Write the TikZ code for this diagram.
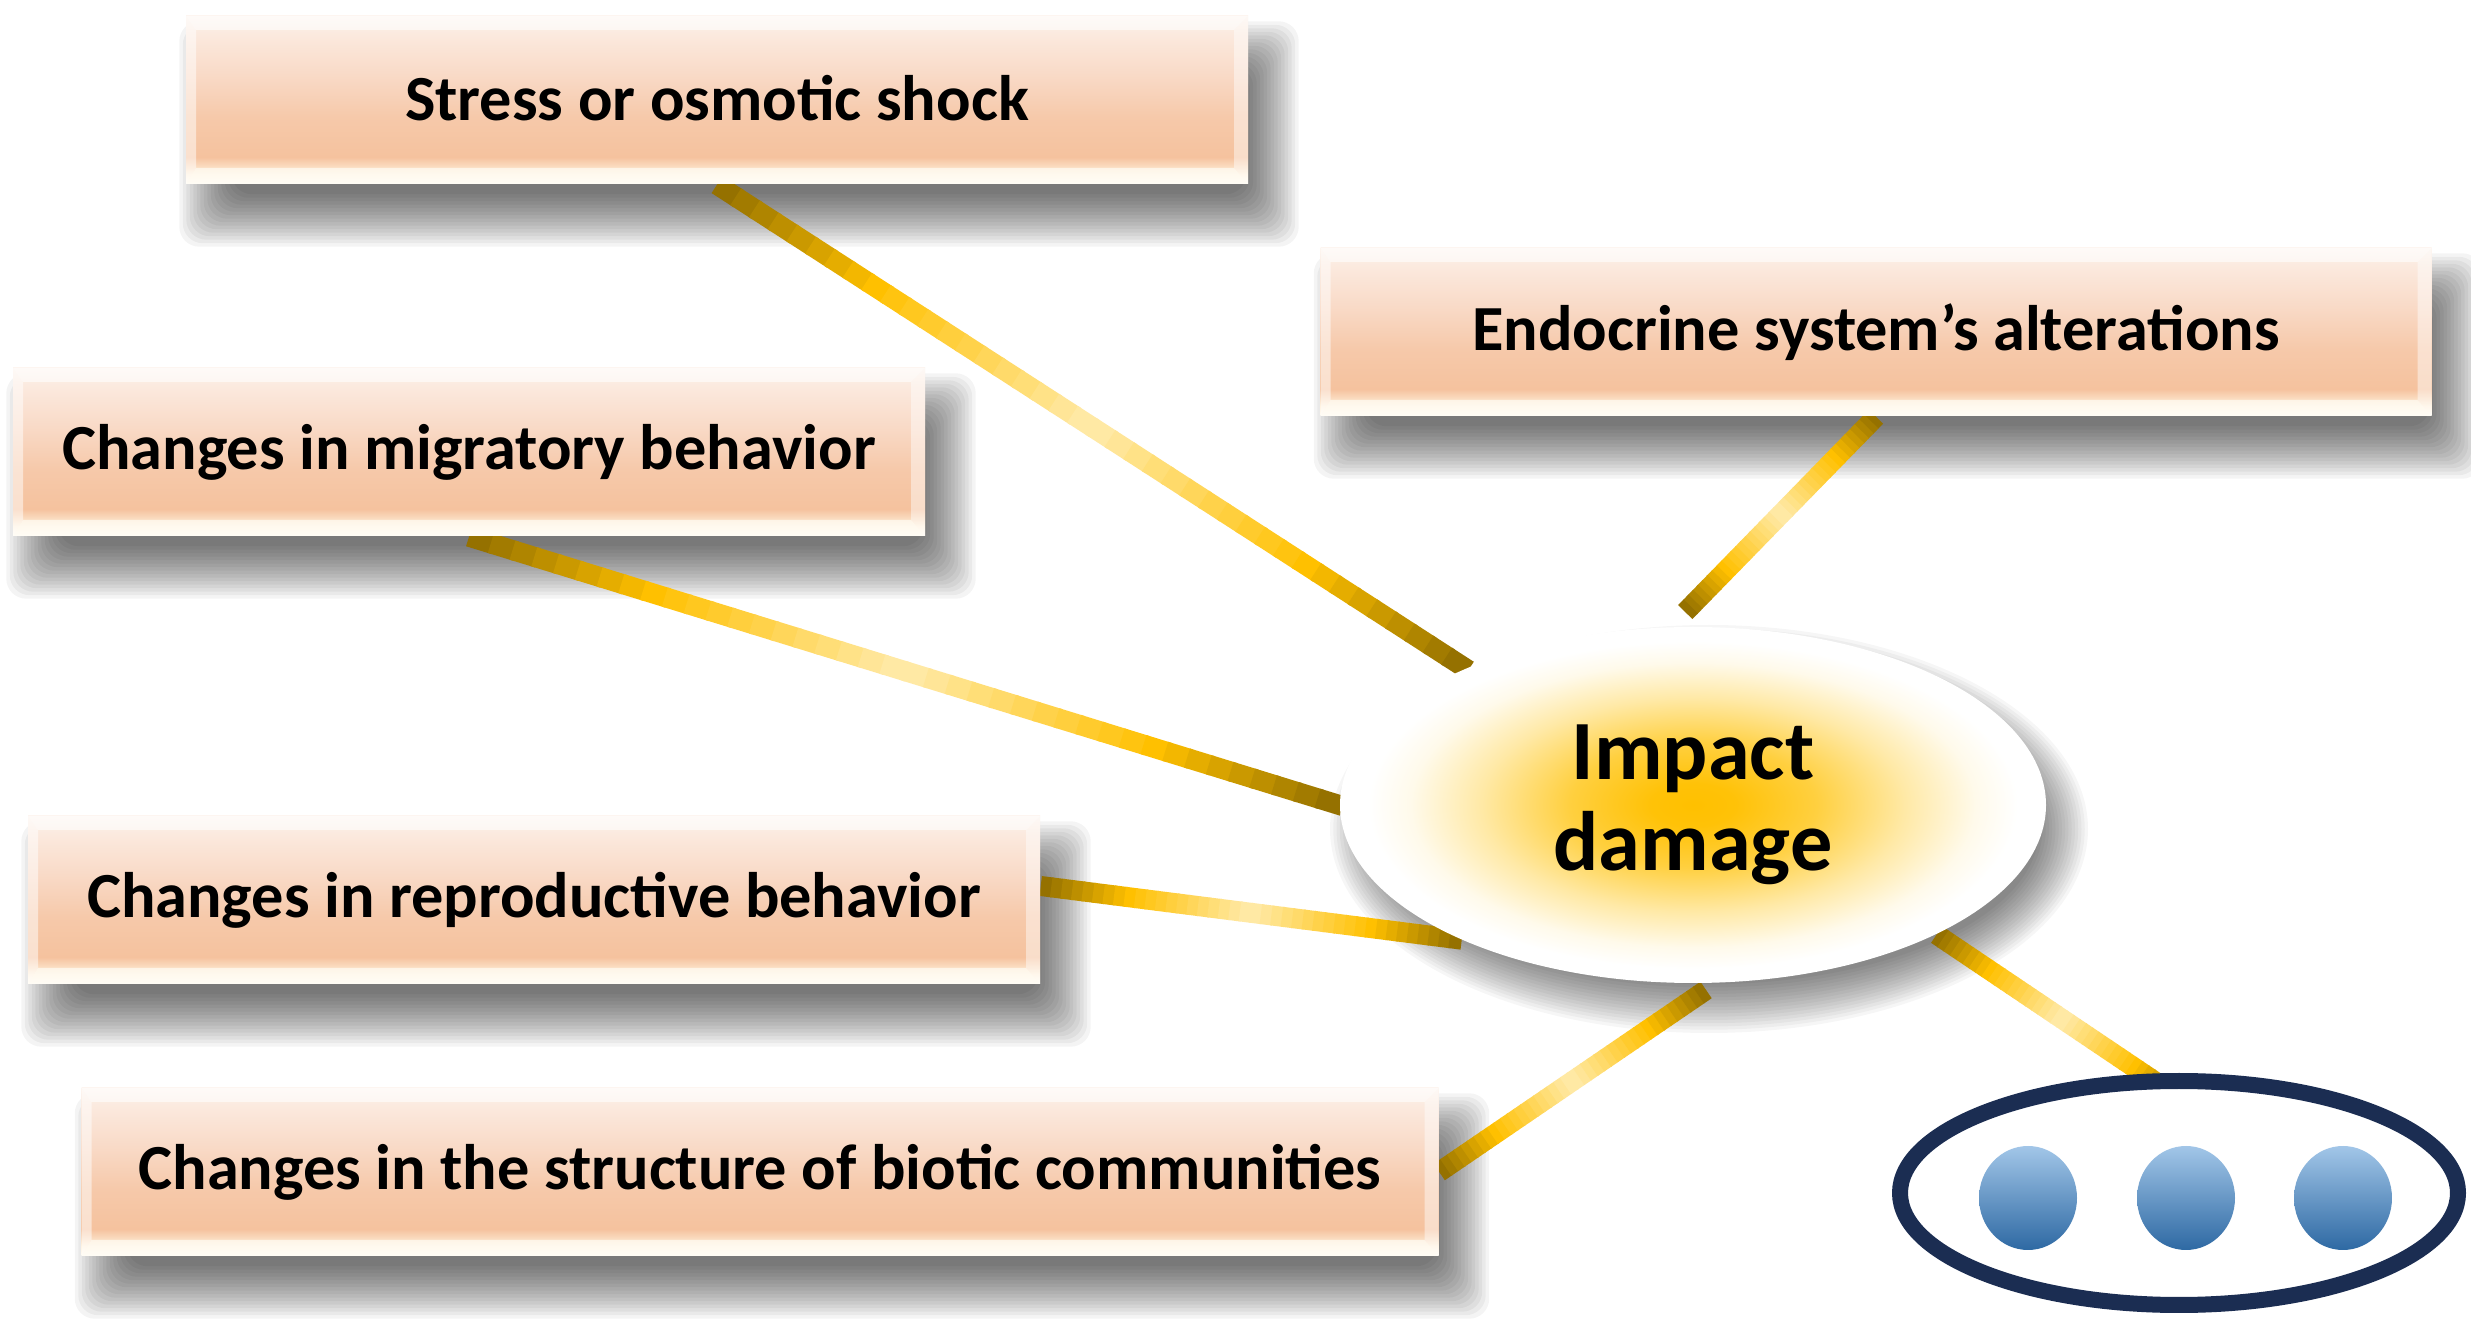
\documentclass[tikz,border=0pt]{standalone}
\usepackage{fontspec}
\setmainfont{Carlito}
\usetikzlibrary{calc,shapes.geometric}

\definecolor{darkgold}{HTML}{8F6D00}
\definecolor{gold}{HTML}{FFC000}
\definecolor{palegold}{HTML}{FFEBAD}
\definecolor{navy}{HTML}{1B2D52}
\definecolor{dotlight}{HTML}{A2C6E8}
\definecolor{dotmid}{HTML}{5E9BD3}
\definecolor{dotdark}{HTML}{2E69A3}
\definecolor{pcW}{HTML}{FFFDF6}
\definecolor{pcA}{HTML}{FFF1DC}
\definecolor{pcB}{HTML}{F5C29E}
\definecolor{pcC}{HTML}{F6C9AA}
\definecolor{pcD}{HTML}{F9DAC7}
\definecolor{pcE}{HTML}{FBEADF}
\definecolor{pcF}{HTML}{FDF4EE}

% peach face of the bevelled panels (the path covers 25bp..75bp, 25bp = bottom)
\pgfdeclareverticalshading{peachface}{100bp}{color(0bp)=(pcW); color(25bp)=(pcW); color(28bp)=(pcA); color(33bp)=(pcB); color(45bp)=(pcC); color(57.5bp)=(pcD); color(70bp)=(pcE); color(75bp)=(pcF); color(100bp)=(pcF)}
% golden glow of the central ellipse (25bp = border)
\pgfdeclareradialshading{goldglow}{\pgfpoint{0bp}{0bp}}{color(0bp)=(gold); color(3bp)=(gold!97!white); color(8.75bp)=(gold!75!white); color(15bp)=(gold!35!white); color(20bp)=(gold!8!white); color(23bp)=(white); color(50bp)=(white)}

\pgfdeclarelayer{shadowlayer}
\pgfdeclarelayer{barlayer}
\pgfsetlayers{shadowlayer,barlayer,main}

\tikzset{
  panel/.style={rectangle, minimum height=16.8mm, inner sep=0pt, shading=peachface,
    font=\bfseries\fontsize{18.3}{22}\selectfont,
    path picture={
      \fill[white, opacity=0.5] (path picture bounding box.north west) -- (path picture bounding box.south west)
        -- ($(path picture bounding box.south west)+(10,-16)$) -- ($(path picture bounding box.north west)+(10,14)$) -- cycle;
      \fill[white, opacity=0.45] (path picture bounding box.north east) -- (path picture bounding box.south east)
        -- ($(path picture bounding box.south east)+(-14,-16)$) -- ($(path picture bounding box.north east)+(-14,14)$) -- cycle;
      \fill[white, opacity=0.6] (path picture bounding box.north west) -- (path picture bounding box.north east)
        -- ($(path picture bounding box.north east)+(-14,14)$) -- ($(path picture bounding box.north west)+(10,14)$) -- cycle;
      \fill[pcW, opacity=0.7] (path picture bounding box.south west) -- (path picture bounding box.south east)
        -- ($(path picture bounding box.south east)+(-14,-16)$) -- ($(path picture bounding box.south west)+(10,-16)$) -- cycle;
    }},
  panelshadowfill/.style={black, opacity=0.044},
  hubshadowfill/.style={black, opacity=0.036},
  hub/.style={ellipse, minimum width=70.6mm, minimum height=35.6mm, inner sep=0pt, shading=goldglow,
    align=center, font=\bfseries\fontsize{24}{25.9}\selectfont},
  group/.style={ellipse, minimum width=55.8mm, minimum height=22.4mm, inner sep=0pt, outer sep=0pt,
    draw=navy, line width=1.6mm, fill=white},
  dot/.style={ellipse, minimum width=9.8mm, minimum height=10.4mm, inner sep=0pt,
    top color=dotlight, middle color=dotmid, bottom color=dotdark}
}

% soft shadow of a panel: stacked, shrinking translucent rectangles
% #1 node, #2 x offset, #3 y offset (down), #4 blur radius (all in picture units)
\newcommand\panelshade[4]{%
  \foreach \k in {0,...,15}{%
    \pgfmathsetmacro\ri{#4-2*#4*\k/16}%
    \fill[panelshadowfill, rounded corners=2mm]
      ($(#1.north west)+(#2-\ri,#3-\ri)$) rectangle ($(#1.south east)+(#2+\ri,#3+\ri)$);
  }%
}
% soft shadow of an ellipse: #1 node, #2/#3 offset, #4 blur radius, #5/#6 half axes
\newcommand\hubshade[6]{%
  \foreach \k in {0,...,15}{%
    \pgfmathsetmacro\ri{#4-2*#4*\k/16}%
    \fill[hubshadowfill] ($(#1.center)+(#2,#3)$) ellipse [x radius=(#5+\ri)/100*1cm, y radius=(#6+\ri)/100*1cm];
  }%
}

% golden bar: dark ends, gold, pale middle
\newcommand\goldbar[2]{%
  \path #1 coordinate (gbA) #2 coordinate (gbB);
  \foreach \i in {0,...,39}{%
    \pgfmathsetmacro\ta{\i/40}%
    \pgfmathsetmacro\tb{(\i+1)/40+0.004}%
    \pgfmathsetmacro\sv{1-abs(2*(\i+0.5)/40-1)}%
    \pgfmathtruncatemacro\pdk{min(\sv/0.42,1)*100}%
    \pgfmathtruncatemacro\ppl{max((\sv-0.42)/0.58,0)*100}%
    \draw[line width=2mm, draw={palegold!\ppl!gold!\pdk!darkgold}]
      ($(gbA)!\ta!(gbB)$) -- ($(gbA)!\tb!(gbB)$);
  }%
}

\begin{document}
\begin{tikzpicture}[x=0.1mm,y=-0.1mm]
\useasboundingbox (0,0) rectangle (2471,1319);

% effect panels
\node[panel, minimum width=106.2mm] (stress) at (717,100) {\raisebox{0.5mm}{Stress or osmotic shock}};
\node[panel, minimum width=111.1mm] (endo) at (1876,332) {\raisebox{0.5mm}{Endocrine system’s alterations}};
\node[panel, minimum width=91.2mm] (migr) at (469,452) {\raisebox{0.5mm}{Changes in migratory behavior}};
\node[panel, minimum width=101.2mm] (repro) at (534,900) {\raisebox{0.5mm}{Changes in reproductive behavior}};
\node[panel, minimum width=135.7mm] (biot) at (760,1172) {\raisebox{0.5mm}{Changes in the structure of biotic communities}};

% central node
\node[hub] (impact) at (1693,805) {Impact\\damage};

% "more" group with three dots
\node[group] (more) at (2179,1193) {};
\node[dot] (d1) at (2028,1198) {};
\node[dot] (d2) at (2186,1198) {};
\node[dot] (d3) at (2343,1198) {};

% soft drop shadows, underneath everything
\begin{pgfonlayer}{shadowlayer}
  \fill[white] (0,0) rectangle (2471,1319);
  \foreach \n in {stress,endo,migr,repro,biot}{\panelshade{\n}{22}{34}{28}}
  \hubshade{impact}{16}{24}{26}{353}{178}
\end{pgfonlayer}

% connectors
\begin{pgfonlayer}{barlayer}
  \goldbar{(stress.south)}{(impact.149)}
  \goldbar{(endo.south)}{($(impact.north)+(-7,-15)$)}
  \goldbar{(migr.south)}{(impact.west)}
  \goldbar{($(repro.east)+(0,-14)$)}{(impact.-150)}
  \goldbar{(biot.east)}{($(impact.south)+(12,7)$)}
  \goldbar{(impact.-28)}{($(more.north)+(8,22)$)}
\end{pgfonlayer}
\end{tikzpicture}
\end{document}
